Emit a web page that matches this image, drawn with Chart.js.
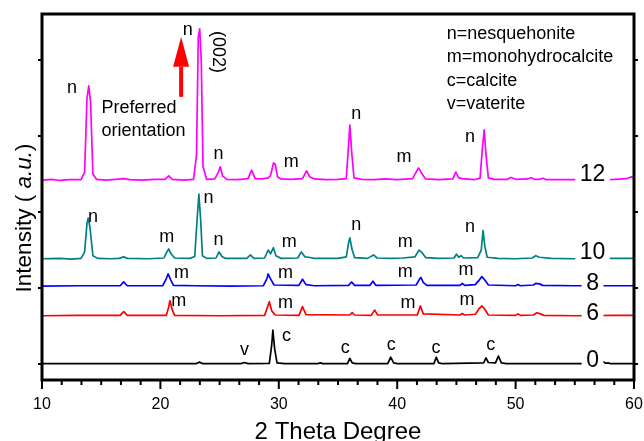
<!DOCTYPE html>
<html>
<head>
<meta charset="utf-8">
<script src="https://cdn.jsdelivr.net/npm/chart.js@4.4.0/dist/chart.umd.min.js"></script>
<style>
body { margin: 0; background: #fff; }
</style>
</head>
<body>
<canvas id="xrd" width="644" height="441"></canvas>
<script>
// axis range and ticks
const X_MIN = 10, X_MAX = 60;
const X_LABELS = [10, 20, 30, 40, 50, 60];
const Y_TICKS = [0, 20, 40, 60, 80];

// sample names (drawn at the right end of each pattern)
const SAMPLES = ['12', '10', '8', '6', '0'];

// XRD patterns as [2theta, intensity], vertical offset already included
const pattern12 = [
  [10, 48.4], [10.8, 48.6], [11.5, 48.3], [12.3, 48.5], [13.3, 48.5], [13.6, 50.5], [13.8, 70], [13.95, 73.2],
  [14.1, 69], [14.3, 50], [14.6, 48.6], [15.4, 48.4], [16.2, 48.6], [16.9, 48.8], [17.4, 48.5], [18.5, 48.4],
  [19.5, 48.6], [20.4, 48.6], [20.7, 49.5], [21.0, 48.6], [22.0, 48.4], [22.8, 48.6], [23.05, 55], [23.2, 86],
  [23.32, 88.2], [23.45, 80], [23.6, 52], [23.9, 48.6], [24.6, 48.7], [24.9, 50.5], [25.05, 51.9], [25.25, 49.5],
  [25.6, 48.6], [26.5, 48.5], [27.4, 48.8], [27.7, 51], [28.0, 48.8], [28.6, 48.7], [29.1, 49], [29.3, 49.6],
  [29.55, 52.9], [29.7, 52.5], [29.9, 49.2], [30.2, 48.7], [31.0, 48.6], [32.0, 48.8], [32.35, 50.8], [32.6, 49.3],
  [33.0, 48.7], [34.0, 48.5], [35.0, 48.6], [35.7, 48.8], [35.9, 58], [36.0, 62.9], [36.15, 56], [36.35, 49],
  [37.0, 48.6], [38.0, 48.5], [39.0, 48.7], [40.0, 48.5], [41.3, 48.8], [41.6, 50.5], [41.8, 51.6], [42.1, 50],
  [42.4, 48.7], [43.5, 48.5], [44.7, 48.7], [44.95, 50.5], [45.2, 49], [45.5, 48.8], [46.5, 48.5], [47.0, 48.9],
  [47.2, 57], [47.35, 61.6], [47.5, 55], [47.7, 49], [48.2, 48.6], [49.3, 48.6], [49.6, 49.1], [50.0, 48.6],
  [51.0, 48.7], [51.3, 49], [51.6, 48.6], [52.0, 48.6], [52.3, 48.9], [52.6, 48.5], [54.0, 48.5], [55.0, 48.5],
  [57.0, 48.5], [58.3, 48.6], [59.4, 48.8], [59.8, 49.3], [60, 48.8]
];

const pattern10 = [
  [10, 27.7], [11.5, 27.8], [12.5, 27.6], [13.3, 27.8], [13.6, 29.5], [13.8, 37], [13.9, 38.4], [14.05, 36],
  [14.3, 28.5], [14.7, 27.8], [15.8, 27.7], [16.5, 27.8], [16.9, 28.2], [17.2, 27.8], [19.0, 27.7], [20.3, 27.9],
  [20.55, 29.5], [20.7, 30.3], [20.9, 29], [21.2, 27.9], [22.5, 27.8], [22.9, 28.3], [23.1, 38], [23.25, 44.7],
  [23.4, 38], [23.55, 28.5], [23.9, 27.8], [24.7, 27.9], [24.95, 29.5], [25.2, 28.3], [25.5, 27.8], [27.3, 27.8],
  [27.6, 28.7], [27.9, 27.8], [28.8, 27.9], [29.1, 30], [29.3, 29], [29.55, 30.6], [29.75, 28.5], [30.2, 27.8],
  [31.6, 27.9], [31.9, 29.5], [32.2, 28.2], [32.5, 28.1], [33.0, 27.8], [35.0, 27.8], [35.7, 28.2], [35.9, 32],
  [36.0, 33.2], [36.2, 30], [36.4, 28], [37.5, 27.8], [38.0, 28.7], [38.3, 27.9], [39.5, 27.8], [40.5, 27.9],
  [41.5, 28.2], [41.85, 30], [42.1, 29.3], [42.4, 28], [43.5, 27.8], [44.8, 27.9], [45.0, 28.9], [45.2, 28.1],
  [45.4, 28.5], [45.6, 27.9], [46.8, 28], [47.1, 30], [47.25, 35.1], [47.4, 31], [47.6, 28.1], [48.5, 27.8],
  [50.0, 27.7], [51.4, 27.9], [51.7, 28.5], [52.0, 28.1], [53.0, 27.8], [55.0, 27.7], [57.0, 27.8], [60, 27.8]
];

const pattern8 = [
  [10, 20.5], [13.0, 20.6], [16.6, 20.6], [16.9, 21.6], [17.2, 20.6], [20.2, 20.6], [20.5, 22.5], [20.65, 23.7],
  [20.85, 22.3], [21.1, 20.7], [23.0, 20.6], [26.0, 20.5], [28.7, 20.6], [29.0, 22.5], [29.1, 23.7], [29.3, 22.4],
  [29.6, 20.8], [31.7, 20.7], [32.0, 22.3], [32.3, 20.9], [33.0, 20.6], [35.9, 20.7], [36.15, 21.6], [36.4, 20.7],
  [37.7, 20.7], [37.95, 21.8], [38.2, 20.7], [41.6, 20.8], [41.9, 22.4], [42.0, 22.8], [42.2, 21.5], [42.5, 20.7],
  [45.3, 20.7], [45.5, 21.2], [45.7, 20.7], [46.6, 20.9], [46.9, 22], [47.15, 23], [47.4, 22.1], [47.7, 20.8],
  [50.0, 20.6], [50.2, 20.9], [50.4, 20.6], [51.5, 20.8], [51.7, 21.2], [52.0, 21.1], [52.3, 20.7], [55.0, 20.6],
  [58.0, 20.6], [60, 20.6]
];

const pattern6 = [
  [10, 12.7], [13.0, 12.8], [16.6, 12.8], [16.9, 13.8], [17.2, 12.8], [20.5, 12.8], [20.7, 15], [20.8, 16.7],
  [21.0, 14.3], [21.2, 12.8], [25.0, 12.7], [28.8, 12.8], [29.05, 15], [29.2, 16.4], [29.4, 14], [29.7, 12.9],
  [31.7, 12.8], [32.0, 15.1], [32.3, 13], [36.0, 12.9], [36.2, 13.5], [36.4, 12.9], [37.8, 12.8], [38.1, 14.2],
  [38.35, 12.9], [41.7, 12.9], [41.95, 15.3], [42.2, 13.2], [45.3, 12.9], [45.5, 13.3], [45.7, 12.9], [46.6, 13.1],
  [46.9, 14.5], [47.15, 15.3], [47.4, 14.4], [47.7, 12.9], [50.0, 12.8], [50.2, 13.2], [50.4, 12.8], [51.5, 12.9],
  [51.8, 13.5], [52.1, 13.2], [52.4, 12.8], [55.0, 12.7], [58.5, 12.8], [60, 12.8]
];

const pattern0 = [
  [10, 0.1], [15, 0.1], [20, 0.1], [23.0, 0.1], [23.3, 0.5], [23.6, 0.1], [26.8, 0.1], [27.1, 0.4],
  [27.4, 0.1], [29.2, 0.2], [29.4, 5], [29.5, 8.9], [29.65, 4], [29.85, 0.3], [30.5, 0.1], [33.3, 0.1],
  [33.5, 0.3], [33.7, 0.1], [35.8, 0.1], [36.0, 1.5], [36.2, 0.3], [36.5, 0.1], [39.2, 0.1], [39.45, 1.8],
  [39.7, 0.3], [40.0, 0.1], [43.1, 0.1], [43.3, 1.8], [43.5, 0.3], [43.8, 0.1], [47.3, 0.3], [47.5, 1.6],
  [47.7, 0.4], [48.3, 0.3], [48.55, 2.1], [48.8, 0.3], [49.2, 0.1], [57.2, 0.1], [57.4, 0.6], [57.6, 0.2],
  [57.8, 0.3], [58.0, 0.1], [60, 0.1]
];

const patterns = [pattern12, pattern10, pattern8, pattern6, pattern0];
const colors = ['#ff00ff', '#008080', '#0000ff', '#ff0000', '#000000'];

// phase letters over the peaks: [2theta, intensity, letter]
const phaseMarks = [
  [12.53, 72.6, 'n'], [22.3, 87.9, 'n'], [24.91, 55.3, 'n'], [31.06, 53.2, 'm'], [36.54, 65.8, 'n'], [40.58, 54.5, 'm'], [46.14, 59.7, 'n'],
  [14.3, 38.7, 'n'], [20.53, 33.4, 'm'], [24.07, 43.7, 'n'], [24.91, 32.6, 'n'], [30.89, 32.1, 'm'], [36.54, 36.6, 'n'], [40.67, 32.1, 'm'], [46.14, 36.1, 'n'],
  [21.79, 23.9, 'm'], [30.56, 23.9, 'm'], [40.67, 24.2, 'm'], [45.81, 24.7, 'm'],
  [21.54, 16.6, 'm'], [30.56, 16.1, 'm'], [40.92, 16.1, 'm'], [45.89, 16.8, 'm'],
  [27.1, 3.7, 'v'], [30.64, 7.4, 'c'], [35.61, 4.2, 'c'], [39.49, 5.0, 'c'], [43.28, 4.2, 'c'], [47.91, 5.0, 'c']
];
const legendLines = ['n=nesquehonite', 'm=monohydrocalcite', 'c=calcite', 'v=vaterite'];

const FONT = "'Liberation Sans', Arial, sans-serif";

const decorations = {
  id: 'decorations',
  afterDatasetsDraw(chart) {
    const { ctx, scales: { x, y } } = chart;
    ctx.save();
    ctx.fillStyle = '#000';

    // sample names sit on the lines with a white gap
    const nameY = [50.0, 29.5, 21.3, 13.4, 1.05];
    ctx.font = '23px ' + FONT;
    ctx.textAlign = 'center';
    ctx.textBaseline = 'middle';
    SAMPLES.forEach((s, i) => {
      const px = x.getPixelForValue(56.5);
      const py = y.getPixelForValue(nameY[i]);
      const w = ctx.measureText(s).width;
      ctx.fillStyle = '#fff';
      ctx.fillRect(px - w / 2 - 4.5, py - 12, w + 9, 24);
      ctx.fillStyle = '#000';
      ctx.fillText(s, px, py + 1);
    });

    // phase letters
    ctx.font = '18px ' + FONT;
    phaseMarks.forEach(([v, h, t]) => {
      ctx.fillText(t, x.getPixelForValue(v), y.getPixelForValue(h));
    });

    // legend block
    ctx.textAlign = 'left';
    legendLines.forEach((t, i) => {
      ctx.fillText(t, x.getPixelForValue(44.18), y.getPixelForValue(86.8) + i * 23.3);
    });

    // preferred orientation note
    ctx.fillText('Preferred', x.getPixelForValue(15.03), y.getPixelForValue(67.4));
    ctx.fillText('orientation', x.getPixelForValue(15.03), y.getPixelForValue(61.3));

    // (002) written downwards
    ctx.save();
    ctx.translate(x.getPixelForValue(24.83), y.getPixelForValue(82.1));
    ctx.rotate(Math.PI / 2);
    ctx.textAlign = 'center';
    ctx.fillText('(002)', 0, 0);
    ctx.restore();

    // red arrow
    const ax = x.getPixelForValue(21.75);
    const tail = y.getPixelForValue(70.3);
    const base = y.getPixelForValue(78.2);
    const tip = y.getPixelForValue(86.05);
    ctx.fillStyle = '#ff0000';
    ctx.fillRect(ax - 2, base, 4, tail - base);
    ctx.beginPath();
    ctx.moveTo(ax - 8, base);
    ctx.lineTo(ax + 8, base);
    ctx.lineTo(ax, tip);
    ctx.closePath();
    ctx.fill();
    ctx.restore();
  },
  afterDraw(chart) {
    const { ctx, chartArea: a, scales: { x, y } } = chart;
    ctx.save();
    ctx.strokeStyle = '#000';
    ctx.lineWidth = 3;
    ctx.strokeRect(a.left, a.top, a.right - a.left, a.bottom - a.top);

    // bottom ticks, 6 intervals per 10 degrees
    ctx.lineWidth = 2;
    ctx.beginPath();
    for (let k = 0; k <= 30; k++) {
      const px = x.getPixelForValue(X_MIN + k * 10 / 6);
      ctx.moveTo(px, a.bottom);
      ctx.lineTo(px, a.bottom + (k % 6 === 0 ? 9 : 5));
    }
    // left and right ticks
    Y_TICKS.forEach(v => {
      const py = y.getPixelForValue(v);
      ctx.moveTo(a.left - 4, py);
      ctx.lineTo(a.left, py);
      ctx.moveTo(a.right, py);
      ctx.lineTo(a.right + 4, py);
    });
    ctx.stroke();

    // axis titles
    ctx.fillStyle = '#000';
    ctx.textBaseline = 'alphabetic';
    ctx.textAlign = 'center';
    ctx.font = '24px ' + FONT;
    ctx.fillText('2 Theta Degree', (a.left + a.right) / 2, 439);

    ctx.save();
    ctx.translate(31, 218);
    ctx.rotate(-Math.PI / 2);
    const size = 22.5;
    const p1 = 'Intensity ( ', p2 = 'a.u.', p3 = ')';
    ctx.font = size + 'px ' + FONT;
    const w1 = ctx.measureText(p1).width, w3 = ctx.measureText(p3).width;
    ctx.font = 'italic ' + size + 'px ' + FONT;
    const w2 = ctx.measureText(p2).width;
    let cx = -(w1 + w2 + w3) / 2;
    ctx.textAlign = 'left';
    ctx.font = size + 'px ' + FONT;
    ctx.fillText(p1, cx, 0);
    cx += w1;
    ctx.font = 'italic ' + size + 'px ' + FONT;
    ctx.fillText(p2, cx, 0);
    cx += w2;
    ctx.font = size + 'px ' + FONT;
    ctx.fillText(p3, cx, 0);
    ctx.restore();
    ctx.restore();
  }
};

new Chart(document.getElementById('xrd'), {
  type: 'scatter',
  data: {
    datasets: patterns.map((p, i) => ({
      label: SAMPLES[i],
      data: p.map(([tt, v]) => ({ x: tt, y: v })),
      showLine: true,
      borderColor: colors[i],
      borderWidth: 1.7,
      borderJoinStyle: 'round',
      pointRadius: 0,
      tension: 0
    }))
  },
  options: {
    responsive: false,
    animation: false,
    layout: { padding: { left: 42, right: 10, top: 14, bottom: 0 } },
    plugins: { legend: { display: false }, tooltip: { enabled: false } },
    scales: {
      x: {
        type: 'linear',
        min: X_MIN,
        max: X_MAX,
        afterFit: s => { s.height = 61; s.paddingLeft = 0; s.paddingRight = 0; },
        afterBuildTicks: s => { s.ticks = X_LABELS.map(v => ({ value: v })); },
        grid: { display: false, drawTicks: false },
        border: { display: false },
        ticks: { color: '#000', font: { family: FONT, size: 16 }, padding: 15, maxRotation: 0, autoSkip: false }
      },
      y: {
        type: 'linear',
        min: -4.2,
        max: 92.1,
        display: false
      }
    }
  },
  plugins: [decorations]
});
</script>
</body>
</html>
